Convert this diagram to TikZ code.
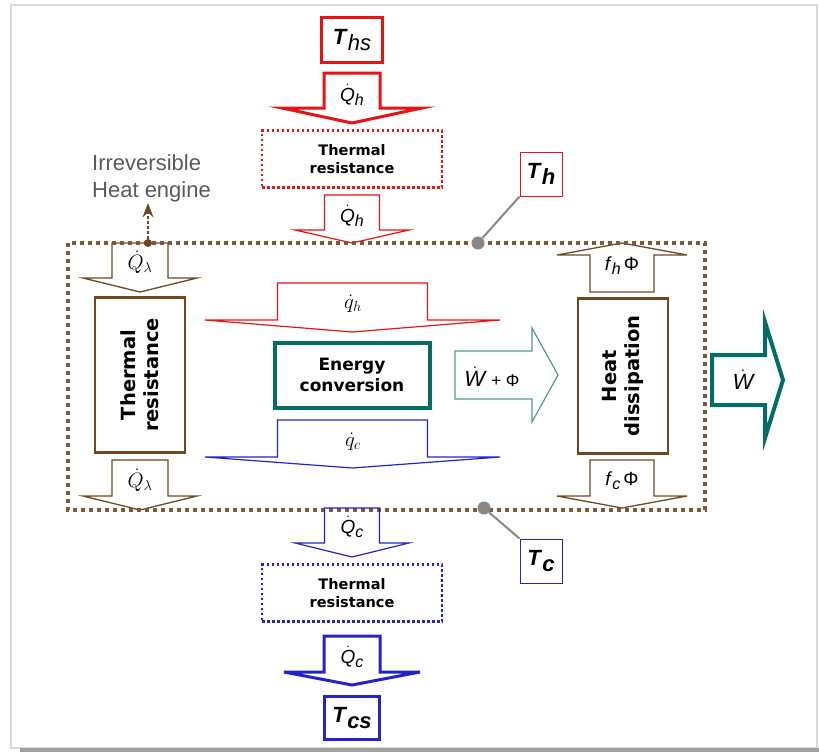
\documentclass[tikz,border=0pt]{standalone}
\usepackage{amsmath}
\usepackage{fontspec}
\setmainfont{Liberation Sans}
\newfontfamily\boxfont{DejaVu Sans}
\usepackage{tikz}
\usetikzlibrary{arrows.meta}

\definecolor{heatred}{RGB}{230,20,20}
\definecolor{coldblue}{RGB}{35,35,200}
\definecolor{enginebrown}{RGB}{110,72,35}
\definecolor{convteal}{RGB}{0,110,100}
\definecolor{lightteal}{RGB}{80,155,145}
\definecolor{pingray}{RGB}{135,135,135}

\newcommand{\heatflow}[2]{$\dot{\textit{#1}}$\raisebox{-4pt}{\fontsize{16}{17}\selectfont\textit{#2}}}

\begin{document}
\begin{tikzpicture}[x=1pt, y=-1pt, >=Stealth,
    pics/blockarrow/.style n args={4}{code={
        \draw[pic actions, line join=miter]
          (-#1,0) -- (-#1,#3) -- (-#2,#3) -- (0,#4) -- (#2,#3) -- (#1,#3) -- (#1,0) -- cycle;
    }},
    qlabel/.style={inner sep=0pt, font=\fontsize{19}{21}\selectfont},
    mathlabel/.style={inner sep=0pt, font=\fontsize{21}{23}\selectfont},
    tempbox/.style={draw=#1, inner sep=0pt, minimum width=42pt, minimum height=44pt,
        font=\fontsize{22}{24}\selectfont},
    resbox/.style={draw=#1, dash pattern=on 2.5pt off 2.5pt, line width=2.5pt,
        minimum width=180pt, minimum height=57pt, align=center, inner sep=0pt,
        font=\boxfont\bfseries\fontsize{14.5}{18}\selectfont},
    sidebox/.style={draw=enginebrown, line width=2.5pt, rotate=90, minimum width=155pt,
        minimum height=90pt, align=center, inner sep=0pt,
        font=\boxfont\bfseries\fontsize{19.5}{23}\selectfont}]

    % page frame
    \useasboundingbox (0,0) rectangle (819,753);
    \draw[gray!30, line width=1.5pt] (11,5) rectangle (817,748);
    \draw[gray!75, line width=4pt] (20,750) -- (819,750);

    % hot side
    \node[tempbox=heatred, line width=2.5pt, minimum width=61pt, minimum height=45pt] (ths) at (352,40)
        {\textbf{\textit{T}}\raisebox{-6pt}{\textit{hs}}};
    \pic[draw=heatred, line width=3pt] at (352,73) {blockarrow={28}{70}{35}{50}};
    \node[qlabel] (qh1) at (352,95) {\heatflow{Q}{h}};
    \node[resbox=heatred] (reshot) at (352,159) {Thermal\\resistance};
    \pic[draw=heatred, line width=1.2pt] at (352,195) {blockarrow={27.5}{57}{35}{48}};
    \node[qlabel] (qh2) at (352,216) {\heatflow{Q}{h}};
    \node[tempbox=heatred, line width=1pt] (th) at (541,174)
        {\textbf{\textit{T}}\raisebox{-6pt}{\textbf{\textit{h}}}};

    % engine
    \pic[draw=enginebrown, line width=1.3pt] at (140,243) {blockarrow={28}{57}{35}{49}};
    \node[mathlabel] (ql1) at (140,262) {$\dot{Q}_\lambda$};
    \node[sidebox] (resleft) at (140,375) {Thermal\\resistance};
    \pic[draw=enginebrown, line width=1.3pt] at (140,460) {blockarrow={28}{57}{36}{50}};
    \node[mathlabel] (ql2) at (140,480) {$\dot{Q}_\lambda$};

    \pic[draw=heatred, line width=1.2pt] at (352.5,283) {blockarrow={75}{147.5}{37}{49}};
    \node[mathlabel] (qsh) at (353,304) {$\dot{q}_h$};
    \node[draw=convteal, line width=4pt, minimum width=155pt, minimum height=65pt, align=center,
        inner sep=0pt, font=\boxfont\bfseries\fontsize{17}{21}\selectfont] (conv) at (352,375)
        {Energy\\conversion};
    \pic[draw=coldblue, line width=1.2pt] at (352.5,420) {blockarrow={75}{147.5}{37}{48}};
    \node[mathlabel] (qsc) at (353,442) {$\dot{q}_c$};

    \pic[draw=lightteal, line width=1.2pt, rotate=90] at (455,375) {blockarrow={24}{47}{77}{103}};
    \node[qlabel, font=\fontsize{22}{24}\selectfont] (wphi) at (492,377)
        {$\dot{\textit{W}}$ {\fontsize{17}{18}\selectfont + Φ}};

    \pic[draw=enginebrown, line width=1.3pt, rotate=180] at (622,292) {blockarrow={32}{65}{37}{49}};
    \node[qlabel] (fh) at (622,266) {\textit{f}\raisebox{-4pt}{\fontsize{16}{17}\selectfont\textit{h}}\,Φ};
    \node[sidebox] (dissip) at (623,376) {Heat\\dissipation};
    \pic[draw=enginebrown, line width=1.3pt] at (622,460) {blockarrow={32}{65}{36}{48}};
    \node[qlabel] (fc) at (622,481) {\textit{f}\raisebox{-4pt}{\fontsize{16}{17}\selectfont\textit{c}}\,Φ};

    \pic[draw=convteal, line width=4pt, rotate=90] at (712,380) {blockarrow={25}{58}{53}{71}};
    \node[qlabel, font=\fontsize{22}{24}\selectfont] (work) at (743,380) {$\dot{\textit{W}}$};

    % engine boundary
    \draw[enginebrown!90, line width=4pt, dash pattern=on 4pt off 4pt] (68,243) rectangle (705,510);

    \node[anchor=north west, align=left, inner sep=1pt, text=black!65,
        font=\fontsize{22}{27}\selectfont] (engine) at (91,153) {Irreversible\\Heat engine};
    \node[circle, fill=enginebrown, inner sep=0pt, minimum size=8pt] (irrdot) at (148,243) {};
    \draw[->, enginebrown, line width=2.5pt, dash pattern=on 2.5pt off 2.5pt] (irrdot) -- (engine.south -| irrdot);

    \node[circle, fill=pingray, inner sep=0pt, minimum size=13pt] (thdot) at (478,243) {};
    \draw[pingray, line width=2pt] (thdot) -- (th.south west);

    % cold side
    \node[circle, fill=pingray, inner sep=0pt, minimum size=13pt] (tcdot) at (484,508) {};
    \node[tempbox=coldblue, line width=1pt] (tc) at (541,561)
        {\textbf{\textit{T}}\raisebox{-6pt}{\textbf{\textit{c}}}};
    \draw[pingray, line width=2pt] (tcdot) -- (tc.north west);

    \pic[draw=coldblue, line width=1.2pt] at (352,508) {blockarrow={27.5}{57}{35}{49}};
    \node[qlabel] (qc1) at (352,527) {\heatflow{Q}{c}};
    \node[resbox=coldblue] (rescold) at (352,593) {Thermal\\resistance};
    \pic[draw=coldblue, line width=3pt] at (352,636) {blockarrow={28}{68}{36}{49}};
    \node[qlabel] (qc2) at (352,657) {\heatflow{Q}{c}};
    \node[tempbox=coldblue, line width=2.5pt, minimum width=55pt, minimum height=43pt] (tcs) at (352,718)
        {\textbf{\textit{T}}\raisebox{-6pt}{\textbf{\textit{cs}}}};
\end{tikzpicture}
\end{document}
